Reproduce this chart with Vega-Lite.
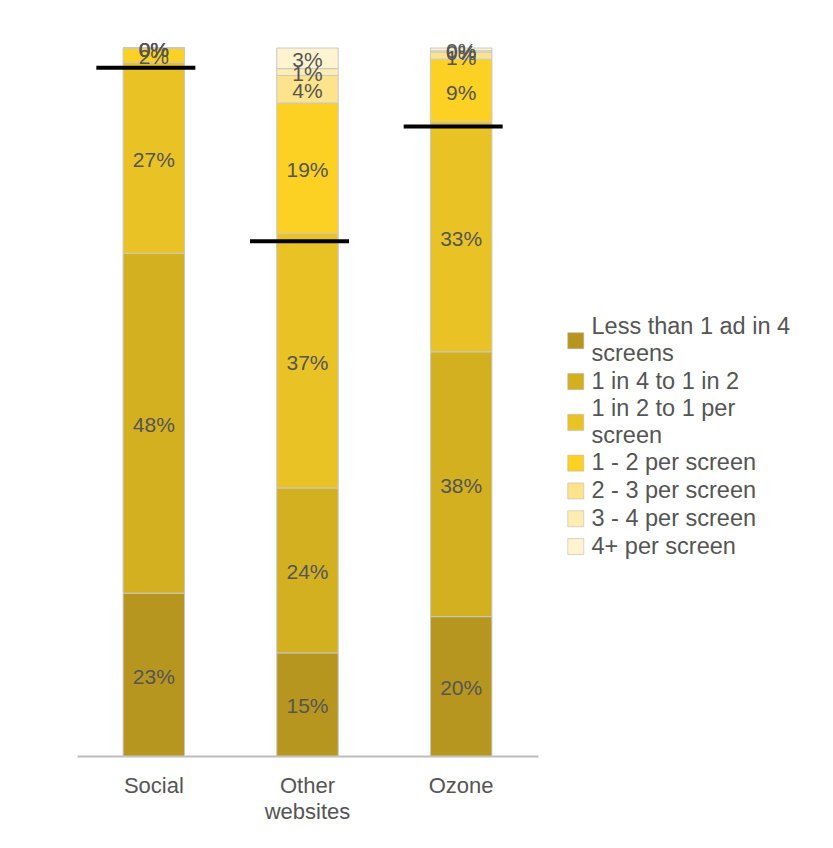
{
  "$schema": "https://vega.github.io/schema/vega-lite/v6.json",
  "width": 461,
  "height": 708,
  "autosize": {"type": "none"},
  "padding": {"left": 77, "top": 48, "right": 295, "bottom": 92},
  "background": "white",
  "config": {"view": {"stroke": null}, "font": "Liberation Sans"},
  "datasets": {
    "shares": [
      {"site": "Social", "category": "Less than 1 ad in 4 screens", "order": 1, "value": 23, "label": "23%"},
      {"site": "Social", "category": "1 in 4 to 1 in 2", "order": 2, "value": 48, "label": "48%"},
      {"site": "Social", "category": "1 in 2 to 1 per screen", "order": 3, "value": 27, "label": "27%"},
      {"site": "Social", "category": "1 - 2 per screen", "order": 4, "value": 2, "label": "2%"},
      {"site": "Social", "category": "2 - 3 per screen", "order": 5, "value": 0, "label": "0%"},
      {"site": "Social", "category": "3 - 4 per screen", "order": 6, "value": 0, "label": "0%"},
      {"site": "Social", "category": "4+ per screen", "order": 7, "value": 0, "label": "0%"},
      {"site": "Other websites", "category": "Less than 1 ad in 4 screens", "order": 1, "value": 15, "label": "15%"},
      {"site": "Other websites", "category": "1 in 4 to 1 in 2", "order": 2, "value": 24, "label": "24%"},
      {"site": "Other websites", "category": "1 in 2 to 1 per screen", "order": 3, "value": 37, "label": "37%"},
      {"site": "Other websites", "category": "1 - 2 per screen", "order": 4, "value": 19, "label": "19%"},
      {"site": "Other websites", "category": "2 - 3 per screen", "order": 5, "value": 4, "label": "4%"},
      {"site": "Other websites", "category": "3 - 4 per screen", "order": 6, "value": 1, "label": "1%"},
      {"site": "Other websites", "category": "4+ per screen", "order": 7, "value": 3, "label": "3%"},
      {"site": "Ozone", "category": "Less than 1 ad in 4 screens", "order": 1, "value": 20, "label": "20%"},
      {"site": "Ozone", "category": "1 in 4 to 1 in 2", "order": 2, "value": 38, "label": "38%"},
      {"site": "Ozone", "category": "1 in 2 to 1 per screen", "order": 3, "value": 33, "label": "33%"},
      {"site": "Ozone", "category": "1 - 2 per screen", "order": 4, "value": 9, "label": "9%"},
      {"site": "Ozone", "category": "2 - 3 per screen", "order": 5, "value": 1, "label": "1%"},
      {"site": "Ozone", "category": "3 - 4 per screen", "order": 6, "value": 0.2, "label": "0%"},
      {"site": "Ozone", "category": "4+ per screen", "order": 7, "value": 0.4, "label": "0%"}
    ],
    "lines": [
      {"site": "Social", "share": 0.972},
      {"site": "Other websites", "share": 0.727},
      {"site": "Ozone", "share": 0.889}
    ]
  },
  "layer": [
    {
      "data": {"name": "shares"},
      "transform": [
        {"stack": "value", "groupby": ["site"], "sort": [{"field": "order"}], "offset": "normalize", "as": ["y0", "y1"]}
      ],
      "layer": [
        {
          "mark": {"type": "bar", "stroke": "#c8c8c8", "strokeWidth": 1},
          "encoding": {
            "x": {
              "field": "site", "type": "nominal",
              "sort": ["Social", "Other websites", "Ozone"],
              "scale": {"paddingInner": 0.6, "paddingOuter": 0.3},
              "axis": {
                "title": null, "labelAngle": 0, "ticks": false,
                "domainColor": "#bdbdbd", "domainWidth": 2,
                "labelFontSize": 22, "labelColor": "#555555", "labelPadding": 19,
                "labelLineHeight": 26,
                "labelExpr": "split(datum.label, ' ')"
              }
            },
            "y": {"field": "y0", "type": "quantitative", "scale": {"domain": [0, 1]}, "axis": null},
            "y2": {"field": "y1"},
            "color": {
              "field": "category", "type": "nominal",
              "scale": {
                "domain": ["Less than 1 ad in 4 screens", "1 in 4 to 1 in 2", "1 in 2 to 1 per screen", "1 - 2 per screen", "2 - 3 per screen", "3 - 4 per screen", "4+ per screen"],
                "range": ["#b7961f", "#d3b020", "#e9c326", "#fdd124", "#fde38c", "#feedb1", "#fff4cf"]
              },
              "legend": {
                "title": null, "orient": "none", "legendX": 487, "legendY": 281,
                "symbolType": "square", "symbolSize": 256, "symbolStrokeColor": "#b0b0b0", "symbolStrokeWidth": 0.5,
                "symbolOpacity": 1,
                "labelFontSize": 23.5, "labelColor": "#555555", "labelLimit": 300,
                "rowPadding": 2.8, "labelOffset": 4,
                "labelExpr": "datum.label == 'Less than 1 ad in 4 screens' ? ['Less than 1 ad in 4', 'screens'] : datum.label == '1 in 2 to 1 per screen' ? ['1 in 2 to 1 per', 'screen'] : datum.label",
                "encode": {"labels": {"update": {
                  "lineHeight": {"value": 27},
                  "dy": {"signal": "datum.value == 'Less than 1 ad in 4 screens' || datum.value == '1 in 2 to 1 per screen' ? -13.5 : 0"}
                }}}
              }
            }
          }
        },
        {
          "transform": [{"calculate": "(datum.y0 + datum.y1) / 2", "as": "ymid"}],
          "mark": {"type": "text", "fontSize": 21, "color": "#555555", "dy": 3},
          "encoding": {
            "x": {"field": "site", "type": "nominal", "sort": ["Social", "Other websites", "Ozone"]},
            "y": {"field": "ymid", "type": "quantitative"},
            "text": {"field": "label"}
          }
        }
      ]
    },
    {
      "data": {"name": "lines"},
      "mark": {"type": "tick", "color": "black", "thickness": 4, "size": 99, "xOffset": -8, "opacity": 1},
      "encoding": {
        "x": {"field": "site", "type": "nominal", "sort": ["Social", "Other websites", "Ozone"]},
        "y": {"field": "share", "type": "quantitative"}
      }
    }
  ]
}
